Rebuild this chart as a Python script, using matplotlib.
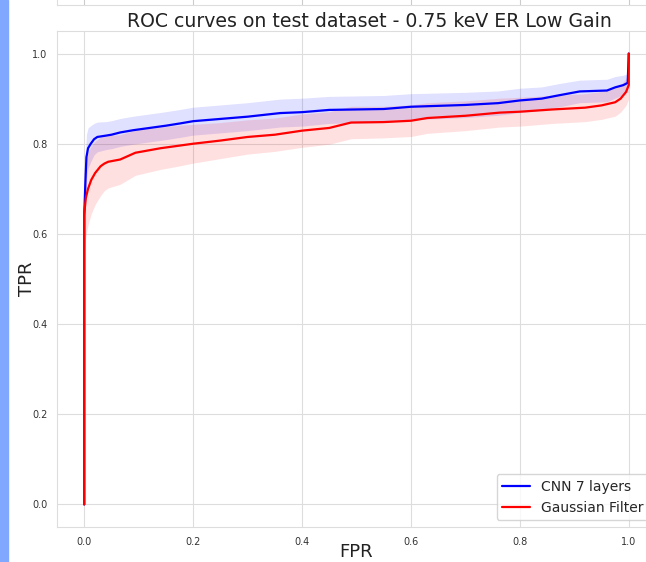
import matplotlib
matplotlib.use("Agg")
import matplotlib.pyplot as plt
import matplotlib.patches as mpatches
import seaborn as sns

sns.set_style("whitegrid")

# mean ROC curves
cnn_fpr = [0.0, 0.0, 0.002, 0.004, 0.007, 0.012, 0.018, 0.024, 0.04, 0.05, 0.066, 0.09,
           0.12, 0.15, 0.176, 0.20, 0.25, 0.30, 0.36, 0.40, 0.45, 0.55, 0.60, 0.70,
           0.76, 0.80, 0.84, 0.87, 0.91, 0.96, 0.975, 0.99, 0.998, 1.0]
cnn_tpr = [0.0, 0.64, 0.71, 0.77, 0.79, 0.80, 0.81, 0.815, 0.818, 0.82, 0.825, 0.83,
           0.835, 0.84, 0.845, 0.85, 0.855, 0.86, 0.868, 0.87, 0.875, 0.877, 0.882, 0.886,
           0.89, 0.896, 0.90, 0.907, 0.916, 0.918, 0.925, 0.93, 0.935, 1.0]
cnn_std = [0.0, 0.06, 0.055, 0.05, 0.045, 0.04, 0.035, 0.033, 0.031, 0.031, 0.031, 0.031,
           0.031, 0.031, 0.031, 0.031, 0.031, 0.031, 0.031, 0.031, 0.03, 0.03, 0.029, 0.028,
           0.027, 0.027, 0.026, 0.026, 0.025, 0.025, 0.024, 0.022, 0.02, 0.0]

gf_fpr = [0.0, 0.0, 0.003, 0.007, 0.013, 0.02, 0.03, 0.037, 0.044, 0.066, 0.094, 0.14,
          0.176, 0.20, 0.25, 0.30, 0.35, 0.40, 0.45, 0.49, 0.55, 0.60, 0.63, 0.70,
          0.763, 0.80, 0.86, 0.92, 0.95, 0.975, 0.985, 0.995, 1.0, 1.0]
gf_tpr = [0.0, 0.645, 0.68, 0.70, 0.72, 0.735, 0.75, 0.756, 0.76, 0.765, 0.78, 0.79,
          0.796, 0.80, 0.807, 0.815, 0.82, 0.829, 0.835, 0.847, 0.848, 0.851, 0.857, 0.862,
          0.869, 0.871, 0.876, 0.88, 0.885, 0.892, 0.90, 0.915, 0.93, 1.0]
gf_std = [0.0, 0.09, 0.085, 0.08, 0.075, 0.07, 0.065, 0.06, 0.058, 0.055, 0.05, 0.047,
          0.045, 0.043, 0.04, 0.038, 0.037, 0.037, 0.036, 0.036, 0.035, 0.035, 0.034, 0.033,
          0.032, 0.032, 0.031, 0.031, 0.031, 0.031, 0.03, 0.03, 0.03, 0.0]

xticks = [0.0, 0.2, 0.4, 0.6, 0.8, 1.0]
yticks = [0.0, 0.2, 0.4, 0.6, 0.8, 1.0]

W, H = 646, 562
fig = plt.figure(figsize=(W / 100, H / 100), dpi=100)

# left/right/top/bottom of main axes in pixels (right side runs off the image)
L, R, T, B = 57, 656, 31, 527
ax = fig.add_axes([L / W, 1 - B / H, (R - L) / W, (B - T) / H])

# sliver of the panel above
ax_top = fig.add_axes([L / W, 1 - 5 / H, (R - L) / W, 0.3])
ax_top.set_xlim(-0.05, 1.05)
ax_top.set_ylim(0, 1)
ax_top.set_xticks(xticks)
ax_top.set_yticks([])
ax_top.tick_params(labelbottom=False, length=0)
for s in ax_top.spines.values():
    s.set_color("#dddddd")

def band(tpr, std):
    up = [min(t + s, 1.0) for t, s in zip(tpr, std)]
    dn = [max(t - s, 0.0) for t, s in zip(tpr, std)]
    return dn, up

dn, up = band(cnn_tpr, cnn_std)
ax.fill_between(cnn_fpr, dn, up, color="blue", alpha=0.12, lw=0)
dn, up = band(gf_tpr, gf_std)
ax.fill_between(gf_fpr, dn, up, color="red", alpha=0.12, lw=0)

ax.plot(cnn_fpr, cnn_tpr, color="blue", lw=1.6, label="CNN 7 layers")
ax.plot(gf_fpr, gf_tpr, color="red", lw=1.6, label="Gaussian Filter")

ax.set_xlim(-0.05, 1.05)
ax.set_ylim(-0.05, 1.05)
ax.set_xticks(xticks)
ax.set_yticks(yticks)
ax.tick_params(labelsize=7, colors="#333333")
for s in ax.spines.values():
    s.set_color("#dddddd")
ax.grid(color="#dddddd")

ax.set_title("ROC curves on test dataset - 0.75 keV ER Low Gain", fontsize=13.6,
             color="#222222", x=0.521, pad=3)
ax.set_xlabel("FPR", fontsize=13, color="#222222", labelpad=-3)
ax.set_ylabel("TPR", fontsize=13, color="#222222", labelpad=-3)
ax.legend(loc="lower right", fontsize=10, frameon=True)

# blue strip on the left edge
fig.patches.append(mpatches.Rectangle((0, 0), 8 / W, 1, transform=fig.transFigure,
                                      color="#80a8ff", zorder=10))

fig.savefig("out.png", dpi=100)
